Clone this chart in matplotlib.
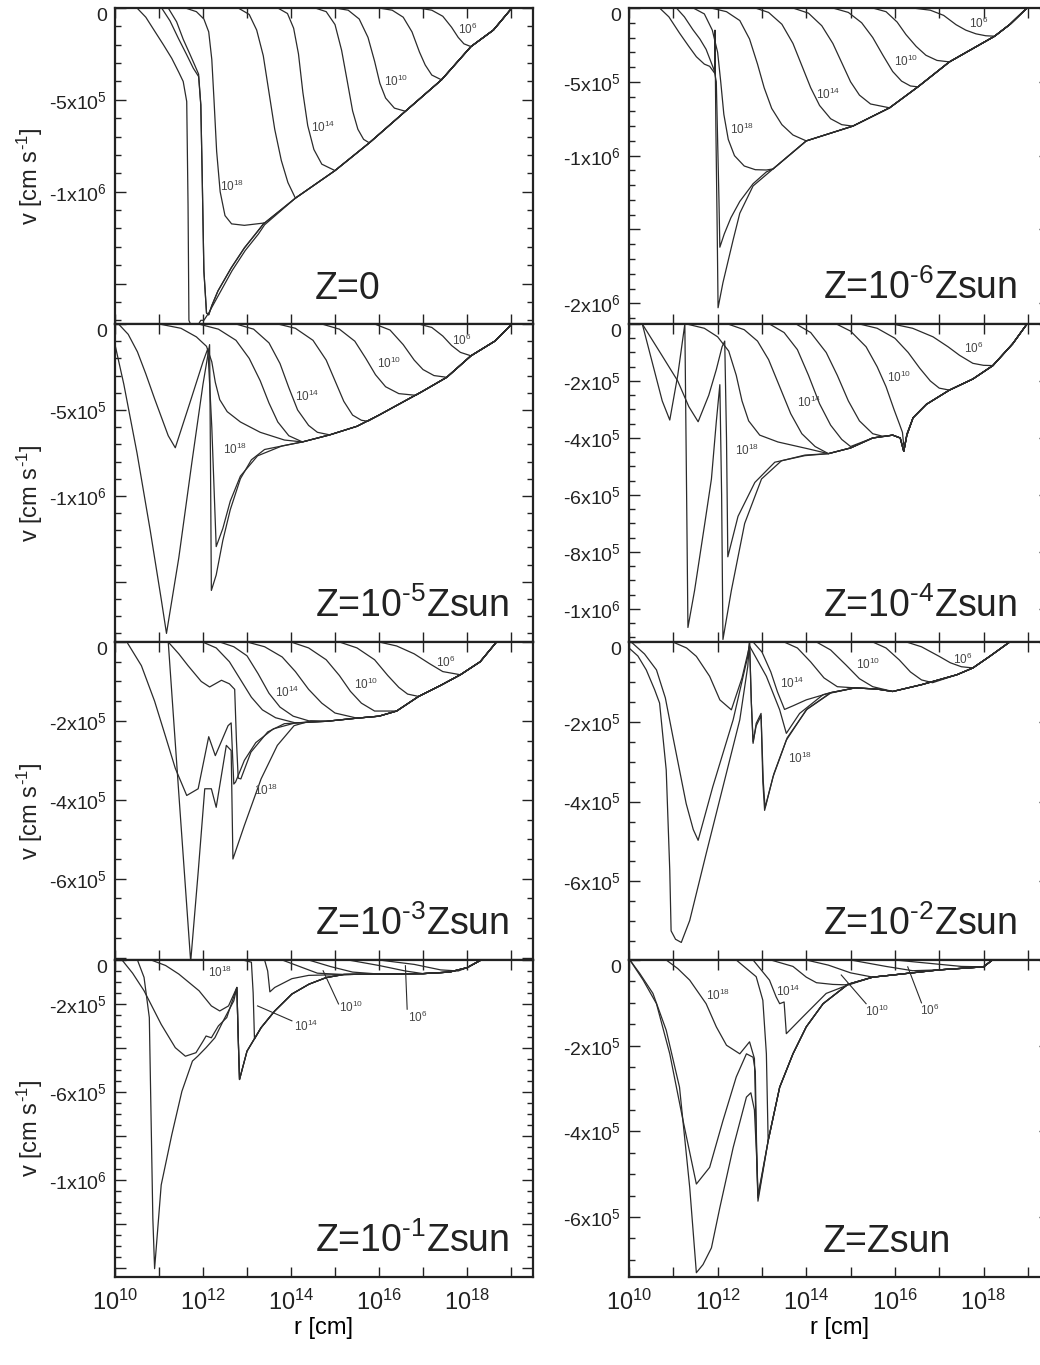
import numpy as np
import matplotlib
matplotlib.use("Agg")
import matplotlib.pyplot as plt
from matplotlib.ticker import FixedLocator, MultipleLocator, NullLocator

plt.rcParams["font.family"] = ["Liberation Sans", "DejaVu Sans"]
plt.rcParams["mathtext.fontset"] = "custom"
plt.rcParams["mathtext.rm"] = "Liberation Sans"
plt.rcParams["mathtext.it"] = "Liberation Sans:italic"
plt.rcParams["mathtext.bf"] = "Liberation Sans:bold"

# all curves: (log10 r [cm], v [1e5 cm/s])

# ---- Z = 0
z0_env = [(13.4, -11.7), (14.1, -10.35), (15.0, -8.85), (15.78, -7.34), (16.6, -5.62),
          (17.42, -3.91), (18.09, -2.1), (18.6, -1.2), (19.02, 0.0)]
z0_c06 = [(16.9, 0), (17.2, -0.12), (17.45, -0.45), (17.65, -1.05), (17.8, -1.6), (17.93, -1.95), (18.09, -2.1)]
z0_c08 = [(16.0, 0), (16.3, -0.12), (16.55, -0.5), (16.75, -1.3), (16.92, -2.4), (17.05, -3.1),
          (17.2, -3.65), (17.42, -3.91)]
z0_c10 = [(15.0, 0), (15.3, -0.12), (15.55, -0.6), (15.75, -1.6), (15.9, -2.9), (16.02, -4.1),
          (16.15, -4.9), (16.35, -5.45), (16.6, -5.62)]
z0_c12 = [(14.55, 0), (14.8, -0.2), (15.0, -0.9), (15.15, -2.3), (15.28, -4.0), (15.4, -5.6),
          (15.52, -6.6), (15.65, -7.15), (15.78, -7.34)]
z0_c14 = [(13.7, 0), (13.92, -0.3), (14.06, -1.1), (14.17, -2.5), (14.27, -4.6), (14.38, -6.4),
          (14.52, -7.7), (14.7, -8.5), (15.0, -8.85)]
z0_c16 = [(12.8, 0), (13.05, -0.35), (13.22, -1.2), (13.37, -2.6), (13.5, -4.6), (13.63, -6.6),
          (13.78, -8.3), (13.93, -9.5), (14.1, -10.35)]
z0_c18 = [(11.6, 0), (11.85, -0.2), (12.02, -0.6), (12.13, -1.3), (12.2, -2.8), (12.25, -5.0),
          (12.31, -7.8), (12.39, -10.0), (12.5, -11.3), (12.65, -11.75), (12.94, -11.83), (13.4, -11.7)]
z0_a = [(10.5, 0), (10.7, -0.5), (10.91, -1.29), (11.1, -2.0), (11.29, -2.74), (11.45, -3.5), (11.55, -4.0),
        (11.63, -5.09), (11.66, -10.7), (11.68, -17.0), (11.75, -17.4), (11.85, -17.4), (11.95, -17.0),
        (12.02, -17.0), (12.13, -16.6), (12.36, -15.6), (12.66, -14.3), (12.96, -13.2), (13.26, -12.3), (13.4, -11.8)]
z0_b = [(11.06, 0), (11.25, -0.7), (11.44, -1.65), (11.62, -2.5), (11.78, -3.28), (11.9, -3.73),
        (11.95, -5.27), (11.98, -8.9), (12.02, -14.3), (12.08, -16.6), (12.13, -16.7), (12.2, -16.2),
        (12.34, -15.4), (12.64, -14.15), (12.94, -13.06), (13.24, -12.16), (13.39, -11.7)]
z0_c = [(11.21, 0), (11.4, -0.75), (11.55, -1.7), (11.7, -2.5), (11.81, -3.1), (11.9, -3.6)]

# ---- Z = 1e-6 Zsun
z6_env = [(12.01, -20.3), (12.12, -18.6), (12.35, -15.7), (12.5, -13.9), (12.8, -12.05), (13.25, -10.9),
          (14.0, -9.0), (15.05, -8.0), (15.88, -6.76), (16.52, -5.34), (17.23, -3.65), (18.25, -1.91),
          (18.6, -1.1), (18.98, 0.0)]
z6_c06 = [(16.4, 0), (16.8, -0.15), (17.1, -0.5), (17.38, -1.13), (17.6, -1.5), (17.83, -1.75),
          (18.05, -1.88), (18.25, -1.91)]
z6_c08 = [(15.5, 0), (15.8, -0.25), (16.05, -0.95), (16.25, -1.8), (16.48, -2.6), (16.7, -3.2),
          (16.95, -3.55), (17.23, -3.65)]
z6_c10 = [(14.6, 0), (14.95, -0.3), (15.25, -1.0), (15.5, -2.0), (15.73, -3.2), (15.95, -4.3),
          (16.15, -4.95), (16.35, -5.28), (16.52, -5.34)]
z6_c12 = [(13.7, 0), (14.05, -0.35), (14.35, -1.2), (14.6, -2.4), (14.8, -3.7), (15.0, -5.0),
          (15.2, -5.9), (15.45, -6.5), (15.88, -6.76)]
z6_c14 = [(12.85, 0), (13.15, -0.3), (13.45, -1.1), (13.7, -2.4), (13.9, -3.9), (14.1, -5.4),
          (14.3, -6.6), (14.55, -7.5), (14.8, -7.9), (15.05, -8.0)]
z6_c16 = [(11.85, 0), (12.2, -0.25), (12.5, -0.85), (12.72, -2.1), (12.9, -3.8), (13.05, -5.4),
          (13.22, -6.8), (13.45, -7.9), (13.7, -8.6), (14.0, -9.0)]
z6_c18 = [(11.45, 0), (11.7, -0.4), (11.88, -1.5), (12.0, -3.0), (12.07, -5.0), (12.14, -7.2),
          (12.24, -8.9), (12.38, -10.0), (12.6, -10.7), (12.85, -10.95), (13.1, -10.97), (13.25, -10.9)]
z6_a = [(10.69, 0), (10.9, -0.6), (11.14, -1.7), (11.35, -2.6), (11.52, -3.3), (11.7, -3.8), (11.82, -3.95),
        (11.93, -4.4), (11.94, -1.5), (11.96, -8.0), (11.99, -15.0), (12.01, -20.3)]
z6_b = [(11.07, 0), (11.25, -0.6), (11.44, -1.46), (11.6, -2.1), (11.74, -2.8), (11.92, -4.2), (11.97, -5.0),
        (12.0, -9.0), (12.03, -13.0), (12.05, -16.2), (12.15, -15.3), (12.3, -14.2), (12.5, -13.1),
        (12.8, -11.9), (13.1, -11.1)]

# ---- Z = 1e-5 Zsun
z5_env = [(14.26, -6.86), (14.88, -6.45), (15.5, -5.95), (16.0, -5.3), (16.5, -4.6), (17.0, -3.9),
          (17.54, -3.1), (18.09, -1.85), (18.63, -1.0), (19.02, 0.0)]
z5_c06 = [(16.9, 0), (17.2, -0.2), (17.45, -0.7), (17.65, -1.25), (17.85, -1.65), (18.09, -1.85)]
z5_c08 = [(15.9, 0), (16.25, -0.35), (16.55, -1.2), (16.8, -2.1), (17.0, -2.65), (17.25, -3.0), (17.54, -3.1)]
z5_c10 = [(14.7, 0), (15.1, -0.3), (15.45, -1.0), (15.7, -2.0), (15.92, -2.95), (16.15, -3.65),
          (16.45, -4.05), (16.84, -4.15)]
z5_c12 = [(13.7, 0), (14.1, -0.25), (14.5, -0.95), (14.8, -2.1), (15.0, -3.3), (15.2, -4.5),
          (15.4, -5.3), (15.6, -5.6), (15.75, -5.66)]
z5_c14 = [(12.75, 0), (13.15, -0.3), (13.5, -1.1), (13.75, -2.3), (13.95, -3.7), (14.15, -5.0),
          (14.4, -5.9), (14.6, -6.3), (14.88, -6.45)]
z5_c16 = [(11.9, 0), (12.35, -0.3), (12.75, -0.95), (13.05, -2.0), (13.3, -3.3), (13.5, -4.6),
          (13.7, -5.7), (13.95, -6.5), (14.26, -6.86)]
z5_c18 = [(11.0, 0), (11.5, -0.25), (11.85, -0.75), (12.08, -1.3), (12.2, -2.2), (12.28, -3.4),
          (12.38, -4.4), (12.55, -5.1), (12.85, -5.7), (13.3, -6.3), (13.85, -6.75), (14.26, -6.86)]
z5_v1 = [(10.0, -1.2), (10.2, -3.5), (10.5, -7.5), (10.8, -12.0), (11.05, -16.0), (11.17, -18.0),
         (11.45, -13.6), (11.75, -8.0), (12.0, -3.5), (12.15, -1.2), (12.17, -8.0), (12.19, -15.5),
         (12.3, -14.6), (12.45, -12.6), (12.62, -10.8), (12.85, -9.0), (13.1, -7.9), (13.4, -7.3), (13.79, -7.1)]
z5_v2 = [(10.08, 0), (10.3, -0.6), (10.51, -1.62), (10.7, -2.9), (10.9, -4.35), (11.21, -6.5), (11.37, -7.2),
         (11.7, -4.6), (12.0, -2.2), (12.11, -1.43), (12.2, -6.0), (12.3, -12.95), (12.45, -11.9),
         (12.62, -10.3), (12.85, -8.85), (13.24, -7.67), (13.79, -7.1)]

# ---- Z = 1e-4 Zsun
z4_env = [(13.97, -4.6), (14.5, -4.55), (15.0, -4.35), (15.5, -4.0), (15.95, -3.9), (16.12, -4.0),
          (16.2, -4.47), (16.27, -3.9), (16.41, -3.29), (16.71, -2.82), (17.23, -2.32), (17.76, -1.93),
          (18.21, -1.46), (18.66, -0.69), (18.98, 0.0)]
z4_c06 = [(15.95, 0), (16.4, -0.15), (16.86, -0.45), (17.2, -0.8), (17.46, -1.1), (17.76, -1.38),
          (18.0, -1.45), (18.21, -1.46)]
z4_c08 = [(15.2, 0), (15.6, -0.15), (16.0, -0.5), (16.3, -1.0), (16.56, -1.55), (16.8, -2.0),
          (17.0, -2.25), (17.23, -2.32)]
z4_c10 = [(14.68, 0), (15.0, -0.25), (15.35, -0.8), (15.6, -1.5), (15.8, -2.2), (15.98, -3.0),
          (16.1, -3.5), (16.17, -3.8), (16.21, -4.4), (16.27, -3.85)]
z4_c12 = [(13.77, 0), (14.1, -0.3), (14.45, -1.0), (14.7, -1.8), (14.95, -2.7), (15.2, -3.4),
          (15.5, -3.85), (15.75, -3.95)]
z4_c14 = [(13.17, 0), (13.5, -0.3), (13.8, -0.9), (14.05, -1.8), (14.3, -2.8), (14.55, -3.55),
          (14.8, -4.05), (15.0, -4.3)]
z4_c16 = [(12.23, 0), (12.6, -0.2), (12.9, -0.6), (13.15, -1.25), (13.4, -2.2), (13.65, -3.15),
          (13.9, -3.85), (14.2, -4.3), (14.5, -4.55)]
z4_c18 = [(11.3, 0), (11.7, -0.15), (12.0, -0.45), (12.25, -0.95), (12.42, -1.8), (12.55, -2.7),
          (12.7, -3.4), (12.95, -3.9), (13.36, -4.14), (14.04, -4.38), (14.5, -4.55)]
z4_d1 = [(10.3, 0), (10.5, -1.2), (10.75, -2.7), (10.92, -3.37), (11.1, -1.8), (11.26, 0), (11.3, -6.0),
         (11.33, -10.65), (11.48, -9.35), (11.71, -7.0), (11.86, -5.44), (11.97, -3.43), (12.05, -2.13),
         (12.09, -6.0), (12.12, -11.07), (12.31, -9.35), (12.61, -7.0), (12.99, -5.44), (13.44, -4.8), (13.97, -4.6)]
z4_d2 = [(10.3, 0), (10.73, -1.07), (11.1, -2.0), (11.35, -2.9), (11.56, -3.43), (11.8, -2.5), (11.97, -1.6),
         (12.1, -0.8), (12.16, -0.6), (12.2, -4.0), (12.23, -8.17), (12.46, -6.75), (12.84, -5.56),
         (13.29, -4.85), (13.97, -4.62)]

# ---- Z = 1e-3 Zsun
z3_env = [(14.1, -2.05), (14.8, -2.01), (15.5, -1.93), (16.0, -1.88), (16.4, -1.75), (16.9, -1.38),
          (17.4, -1.1), (17.85, -0.83), (18.3, -0.5), (18.67, 0.0)]
z3_c06 = [(16.0, 0), (16.4, -0.1), (16.8, -0.3), (17.15, -0.55), (17.45, -0.75), (17.85, -0.83)]
z3_c08 = [(15.1, 0), (15.5, -0.15), (15.9, -0.45), (16.2, -0.85), (16.45, -1.15), (16.65, -1.32), (16.9, -1.38)]
z3_c10 = [(14.0, 0), (14.4, -0.15), (14.8, -0.45), (15.1, -0.85), (15.35, -1.25), (15.6, -1.55),
          (15.9, -1.75), (16.4, -1.75)]
z3_c12 = [(13.0, 0), (13.4, -0.12), (13.8, -0.38), (14.1, -0.75), (14.4, -1.2), (14.7, -1.55),
          (15.0, -1.8), (15.5, -1.93)]
z3_c14 = [(12.38, 0), (12.7, -0.12), (13.0, -0.35), (13.25, -0.8), (13.5, -1.3), (13.75, -1.65),
          (14.05, -1.88), (14.41, -2.0)]
z3_c16 = [(11.99, 0), (12.3, -0.15), (12.6, -0.5), (12.85, -0.95), (13.1, -1.4), (13.35, -1.72),
          (13.65, -1.92), (14.1, -2.05)]
z3_c18 = [(11.21, 0), (11.45, -0.3), (11.66, -0.6), (11.96, -1.0), (12.15, -1.14), (12.42, -0.97), (12.6, -1.06),
          (12.72, -1.2), (12.76, -2.5), (12.8, -3.45), (12.86, -3.47), (13.09, -2.79), (13.47, -2.28),
          (13.85, -2.07), (14.15, -2.05)]
z3_q1 = [(10.27, 0), (10.6, -0.6), (10.9, -1.5), (11.15, -2.4), (11.37, -3.2), (11.63, -3.89), (11.89, -3.72),
         (12.13, -2.4), (12.28, -2.88), (12.57, -2.12), (12.64, -2.05), (12.7, -3.6), (12.74, -3.55),
         (12.94, -3.0), (13.2, -2.55), (13.6, -2.2), (14.1, -2.05)]
z3_q2 = [(11.21, 0), (11.46, -4.0), (11.72, -8.1), (11.89, -5.84), (12.04, -3.72), (12.19, -3.72),
         (12.3, -4.19), (12.53, -2.62), (12.64, -2.75), (12.68, -5.5), (12.94, -4.65), (13.32, -3.47),
         (13.69, -2.62), (14.07, -2.12), (14.45, -2.0)]

# ---- Z = 1e-2 Zsun
z2_env = [(14.55, -1.27), (15.1, -1.15), (15.6, -1.18), (15.95, -1.24), (16.6, -1.07), (17.4, -0.82),
          (17.76, -0.65), (18.14, -0.36), (18.59, 0.0)]
z2_c06 = [(16.26, 0), (16.6, -0.12), (17.0, -0.36), (17.25, -0.52), (17.5, -0.62), (17.76, -0.65)]
z2_c08 = [(15.5, 0), (15.8, -0.15), (16.1, -0.45), (16.35, -0.75), (16.6, -0.95), (16.85, -1.02)]
z2_c10 = [(14.23, 0), (14.55, -0.2), (14.9, -0.58), (15.2, -0.92), (15.5, -1.12), (15.95, -1.24)]
z2_c12 = [(13.5, 0), (13.8, -0.15), (14.1, -0.5), (14.4, -0.9), (14.7, -1.12), (15.1, -1.15)]
z2_c14 = [(12.8, 0), (13.0, -0.25), (13.2, -0.75), (13.35, -1.25), (13.51, -1.69), (13.7, -1.6),
          (14.0, -1.45), (14.55, -1.27)]
z2_w3 = [(10.99, 0), (11.3, -0.15), (11.52, -0.36), (11.82, -0.86), (12.05, -1.45), (12.31, -1.7), (12.55, -0.9),
         (12.72, -0.1), (13.1, -0.86), (13.4, -1.7), (13.55, -2.29), (13.85, -1.79), (14.38, -1.32), (14.55, -1.27)]
z2_w2 = [(10.05, 0), (10.35, -0.3), (10.62, -0.7), (10.82, -1.4), (10.99, -2.37), (11.29, -4.05),
         (11.45, -4.7), (11.56, -4.97), (11.89, -3.63),
         (12.35, -1.95), (12.68, -0.36), (12.72, 0), (12.76, -1.5), (12.8, -2.54), (12.87, -2.04),
         (12.98, -1.79), (13.02, -3.5), (13.06, -4.22), (13.25, -3.38), (13.55, -2.46), (14.0, -1.7), (14.55, -1.28)]
z2_w1 = [(10.0, -0.15), (10.2, -0.35), (10.39, -0.7), (10.58, -1.2), (10.69, -1.53), (10.84, -3.21),
         (10.92, -5.73), (10.95, -7.24), (11.05, -7.45), (11.18, -7.53), (11.37, -6.98), (11.74, -5.31),
         (12.12, -3.63), (12.5, -1.95), (12.68, -0.61),
         (12.72, 0), (12.76, -1.5), (12.8, -2.5), (12.87, -2.1), (12.98, -1.85), (13.03, -3.5),
         (13.07, -4.15), (13.27, -3.3), (13.57, -2.4), (14.02, -1.68), (14.55, -1.27)]

# ---- Z = 1e-1 Zsun
z1_env = [(15.2, -0.66), (16.0, -0.64), (17.0, -0.62), (17.6, -0.55), (18.0, -0.35), (18.32, 0.0)]
z1_post = [(12.83, -5.44), (13.0, -4.15), (13.32, -3.08), (13.63, -2.32), (14.02, -1.55), (14.41, -1.1),
           (14.8, -0.8), (15.2, -0.66)]
z1_c06 = [(16.0, 0), (16.8, -0.2), (17.4, -0.45), (17.8, -0.5)]
z1_c08 = [(15.3, 0), (16.0, -0.25), (16.6, -0.5), (17.0, -0.62)]
z1_c10 = [(14.4, 0), (14.9, -0.3), (15.4, -0.55), (16.0, -0.64)]
z1_c12 = [(13.8, 0), (14.2, -0.3), (14.6, -0.6), (15.2, -0.66)]
z1_c14 = [(13.4, 0), (13.47, -0.5), (13.52, -1.45), (13.63, -1.25), (14.02, -0.85), (14.4, -0.7), (15.2, -0.66)]
z1_c16 = [(12.9, 0), (13.1, -0.1), (13.14, -1.5), (13.17, -3.6), (13.32, -3.08)]
z1_c18 = [(10.82, 0), (11.15, -0.25), (11.45, -0.64), (11.91, -1.4), (12.19, -2.09), (12.38, -2.32), (12.58, -2.09),
          (12.77, -1.25), (12.8, -3.5)]
z1_r1 = [(10.51, 0), (10.66, -0.79), (10.78, -2.62), (10.82, -7.2), (10.86, -11.77), (10.9, -14.05),
         (11.05, -10.24), (11.29, -7.96), (11.52, -5.98), (11.76, -4.6), (11.88, -4.38), (12.07, -3.99),
         (12.27, -3.54), (12.46, -2.77), (12.7, -1.86), (12.77, -1.25), (12.8, -3.5)]
z1_r2 = [(10.16, 0), (10.4, -0.6), (10.66, -1.4), (11.05, -2.93), (11.37, -3.99), (11.6, -4.38), (11.84, -4.22),
         (12.0, -3.7), (12.07, -3.46), (12.19, -3.54), (12.35, -3.0), (12.54, -2.62), (12.77, -1.25), (12.8, -3.5)]

# ---- Z = Zsun
zs_env = [(14.9, -0.58), (15.5, -0.4), (15.95, -0.35), (17.0, -0.23), (18.0, -0.16), (18.2, 0.0)]
zs_post = [(13.14, -4.22), (13.4, -2.97), (13.7, -2.19), (14.0, -1.56), (14.38, -1.02), (14.9, -0.6)]
zs_c06 = [(16.0, 0), (16.8, -0.08), (17.5, -0.15), (18.0, -0.16)]
zs_c08 = [(15.0, 0), (15.8, -0.15), (16.4, -0.25), (17.0, -0.23)]
zs_c10 = [(14.0, 0), (14.5, -0.12), (15.0, -0.3), (15.5, -0.4)]
zs_c12 = [(13.2, 0), (13.7, -0.15), (14.0, -0.4), (14.23, -0.53), (14.6, -0.57), (14.9, -0.58)]
zs_c14 = [(12.8, 0), (13.17, -0.47), (13.32, -0.86), (13.4, -1.02), (13.5, -0.98), (13.55, -1.72),
          (13.92, -1.33), (14.45, -0.78), (14.9, -0.6)]
zs_c16 = [(12.42, 0), (12.87, -0.39), (13.02, -0.94), (13.1, -2.19), (13.14, -4.22)]
zs_c18 = [(10.84, 0), (11.1, -0.2), (11.37, -0.47), (11.74, -1.02), (11.97, -1.56), (12.2, -1.99), (12.5, -2.19),
          (12.72, -1.91), (12.83, -2.3), (12.88, -4.5), (12.91, -5.55), (13.14, -4.22)]
zs_s1 = [(10.02, 0), (10.24, -0.31), (10.54, -0.78), (10.84, -1.64), (11.14, -2.97), (11.37, -5.31),
         (11.52, -7.3), (11.67, -7.11), (11.86, -6.72), (12.05, -5.78), (12.35, -4.38), (12.65, -3.2),
         (12.75, -3.1), (12.83, -3.5), (12.88, -4.6), (12.91, -5.63), (13.14, -4.22)]
zs_s2 = [(10.02, 0), (10.32, -0.47), (10.62, -1.02), (10.92, -2.19), (11.22, -3.75), (11.52, -5.23),
         (11.82, -4.84), (12.12, -3.75), (12.42, -2.73), (12.65, -2.19), (12.8, -2.27), (12.85, -2.6),
         (12.88, -4.4), (12.91, -5.5), (13.14, -4.22)]

lab_exp = ["6", "10", "14", "18"]
z0_lab = [(17.8, -1.19), (16.12, -4.0), (14.45, -6.5), (12.38, -9.7)]
z6_lab = [(17.68, -1.01), (15.99, -3.6), (14.23, -5.86), (12.27, -8.22)]
z5_lab = [(17.65, -0.94), (15.95, -2.3), (14.1, -4.2), (12.45, -7.3)]
z4_lab = [(17.57, -0.86), (15.83, -1.87), (13.8, -2.76), (12.4, -4.42)]
z3_lab = [(17.3, -0.52), (15.43, -1.08), (13.63, -1.29), (13.17, -3.76)]
z2_lab = [(17.31, -0.44), (15.13, -0.57), (13.4, -1.03), (13.59, -2.92)]
z1_lab = [(16.65, -2.62), (15.08, -2.16), (14.06, -3.0), (12.11, -0.56)]
zs_lab = [(16.56, -1.17), (15.32, -1.21), (13.32, -0.74), (11.74, -0.82)]
z1_lead = [[(16.64, -2.24), (16.6, -0.26)], [(15.08, -2.0), (14.73, -0.49)], [(14.02, -2.77), (13.24, -2.09)]]
zs_lead = [[(16.6, -1.0), (16.29, -0.16)], [(15.35, -1.02), (14.79, -0.35)]]


def build(inner, tail):
    last = inner[-1][0]
    pts = list(inner) + [p for p in tail if p[0] > last + 1e-9]
    a = np.array(pts, dtype=float)
    return 10.0 ** a[:, 0], a[:, 1]


HY = "\u2010"  # short hyphen used in the superscripts
panels = [
    dict(name="Z=0", col=0, row=0, ylim=-17.2, major=[0, -5, -10, -15],
         labels=["0", "-5x10$^5$", "-1x10$^6$", ""], minor=1.0,
         curves=[(z0_c06, z0_env), (z0_c08, z0_env), (z0_c10, z0_env), (z0_c12, z0_env),
                 (z0_c14, z0_env), (z0_c16, z0_env), (z0_c18, z0_env), (z0_a, z0_env),
                 (z0_b, z0_env), (z0_c, z0_b)],
         lab=z0_lab, lead=[]),
    dict(name="Z=10$^{%s6}$Zsun" % HY, col=1, row=0, ylim=-21.4, major=[0, -5, -10, -15, -20],
         labels=["0", "-5x10$^5$", "-1x10$^6$", "", "-2x10$^6$"], minor=1.0,
         curves=[(z6_c06, z6_env), (z6_c08, z6_env), (z6_c10, z6_env), (z6_c12, z6_env),
                 (z6_c14, z6_env), (z6_c16, z6_env), (z6_c18, z6_env), (z6_a, z6_env), (z6_b, z6_env)],
         lab=z6_lab, lead=[]),
    dict(name="Z=10$^{%s5}$Zsun" % HY, col=0, row=1, ylim=-18.5, major=[0, -5, -10, -15],
         labels=["0", "-5x10$^5$", "-1x10$^6$", ""], minor=1.0,
         curves=[(z5_c06, z5_env), (z5_c08, z5_env), (z5_c10, z5_env), (z5_c12, z5_env),
                 (z5_c14, z5_env), (z5_c16, z5_env), (z5_c18, z5_env), (z5_v1, z5_env), (z5_v2, z5_env)],
         lab=z5_lab, lead=[]),
    dict(name="Z=10$^{%s4}$Zsun" % HY, col=1, row=1, ylim=-11.16, major=[0, -2, -4, -6, -8, -10],
         labels=["0", "-2x10$^5$", "-4x10$^5$", "-6x10$^5$", "-8x10$^5$", "-1x10$^6$"], minor=0.5,
         curves=[(z4_c06, z4_env), (z4_c08, z4_env), (z4_c10, z4_env), (z4_c12, z4_env),
                 (z4_c14, z4_env), (z4_c16, z4_env), (z4_c18, z4_env), (z4_d1, z4_env), (z4_d2, z4_env)],
         lab=z4_lab, lead=[]),
    dict(name="Z=10$^{%s3}$Zsun" % HY, col=0, row=2, ylim=-8.06, major=[0, -2, -4, -6, -8],
         labels=["0", "-2x10$^5$", "-4x10$^5$", "-6x10$^5$", ""], minor=0.5,
         curves=[(z3_c06, z3_env), (z3_c08, z3_env), (z3_c10, z3_env), (z3_c12, z3_env),
                 (z3_c14, z3_env), (z3_c16, z3_env), (z3_c18, z3_env), (z3_q1, z3_env), (z3_q2, z3_env)],
         lab=z3_lab, lead=[]),
    dict(name="Z=10$^{%s2}$Zsun" % HY, col=1, row=2, ylim=-7.97, major=[0, -2, -4, -6],
         labels=["0", "-2x10$^5$", "-4x10$^5$", "-6x10$^5$"], minor=0.5,
         curves=[(z2_c06, z2_env), (z2_c08, z2_env), (z2_c10, z2_env), (z2_c12, z2_env),
                 (z2_c14, z2_env), (z2_w3, z2_env), (z2_w2, z2_env), (z2_w1, z2_env)],
         lab=z2_lab, lead=[]),
    dict(name="Z=10$^{%s1}$Zsun" % HY, col=0, row=3, ylim=-14.43, major=[0, -2, -4, -6, -8, -10, -12, -14],
         labels=["0", "-2x10$^5$", "", "-6x10$^5$", "", "-1x10$^6$", "", ""], minor=0.5,
         curves=[(z1_c06, z1_env), (z1_c08, z1_env), (z1_c10, z1_env), (z1_c12, z1_env),
                 (z1_c14, z1_env), (z1_c16, z1_post + z1_env), (z1_c18, z1_post + z1_env),
                 (z1_r1, z1_post + z1_env), (z1_r2, z1_post + z1_env)],
         lab=z1_lab, lead=z1_lead),
    dict(name="Z=Zsun", col=1, row=3, ylim=-7.4, major=[0, -2, -4, -6],
         labels=["0", "-2x10$^5$", "-4x10$^5$", "-6x10$^5$"], minor=0.5,
         curves=[(zs_c06, zs_env), (zs_c08, zs_env), (zs_c10, zs_env), (zs_c12, zs_env),
                 (zs_c14, zs_env), (zs_c16, zs_post + zs_env), (zs_c18, zs_post + zs_env),
                 (zs_s1, zs_post + zs_env), (zs_s2, zs_post + zs_env)],
         lab=zs_lab, lead=zs_lead),
]

W, H = 1040, 1365
row_top = [8, 324, 642, 960]
row_bot = [324, 642, 960, 1277]
col_x = [(115, 533), (629, 1050)]
line_col = "#2b2b2b"

fig = plt.figure(figsize=(W / 100, H / 100), dpi=100)

for p in panels:
    x0, x1 = col_x[p["col"]]
    t, b = row_top[p["row"]], row_bot[p["row"]]
    ax = fig.add_axes([x0 / W, 1 - b / H, (x1 - x0) / W, (b - t) / H])
    for inner, tail in p["curves"]:
        r, v = build(inner, tail)
        ax.plot(r, v, color=line_col, lw=0.9, solid_joinstyle="round")
    for seg in p["lead"]:
        a = np.array(seg)
        ax.plot(10.0 ** a[:, 0], a[:, 1], color=line_col, lw=0.8)
    for (lx, ly), e in zip(p["lab"], lab_exp):
        ax.text(10.0 ** lx, ly, "10$^{%s}$" % e, fontsize=8.5, color="#444444",
                ha="left", va="center")

    ax.set_xscale("log")
    ax.set_xlim(1e10, 10 ** 19.5)
    ax.set_ylim(p["ylim"], 0)
    ax.xaxis.set_major_locator(FixedLocator([10.0 ** k for k in range(10, 20)]))
    ax.xaxis.set_minor_locator(NullLocator())
    if p["row"] == 3:
        ax.set_xticklabels(["10$^{%d}$" % k if k % 2 == 0 else "" for k in range(10, 20)], fontsize=17)
        ax.set_xlabel("r [cm]", fontsize=17, labelpad=2)
    else:
        ax.set_xticklabels([])
    ax.yaxis.set_major_locator(FixedLocator(p["major"]))
    ax.yaxis.set_minor_locator(MultipleLocator(p["minor"]))
    ylab = ax.set_yticklabels(p["labels"], fontsize=14)
    ylab[0].set_va("top")
    ax.tick_params(which="both", direction="in", top=True, right=True, width=1.0, colors="#222222")
    ax.tick_params(axis="x", which="major", length=7, pad=9)
    ax.tick_params(axis="y", which="major", length=8, pad=6)
    ax.tick_params(axis="y", which="minor", length=4)
    for s in ax.spines.values():
        s.set_linewidth(1.6)
        s.set_color("#222222")
    ax.text(0.478 if p["col"] == 0 else 0.461, 0.08, p["name"], transform=ax.transAxes,
            fontsize=27, ha="left", va="baseline", color="#222222")

    if p["col"] == 0:
        yc = (t + b) / 2 + 10
        fig.text(30 / W, 1 - yc / H, "v [cm s$^{%s1}$]" % HY, rotation=90, fontsize=17,
                 ha="center", va="center", color="#222222")

fig.savefig("out.png", dpi=100)
